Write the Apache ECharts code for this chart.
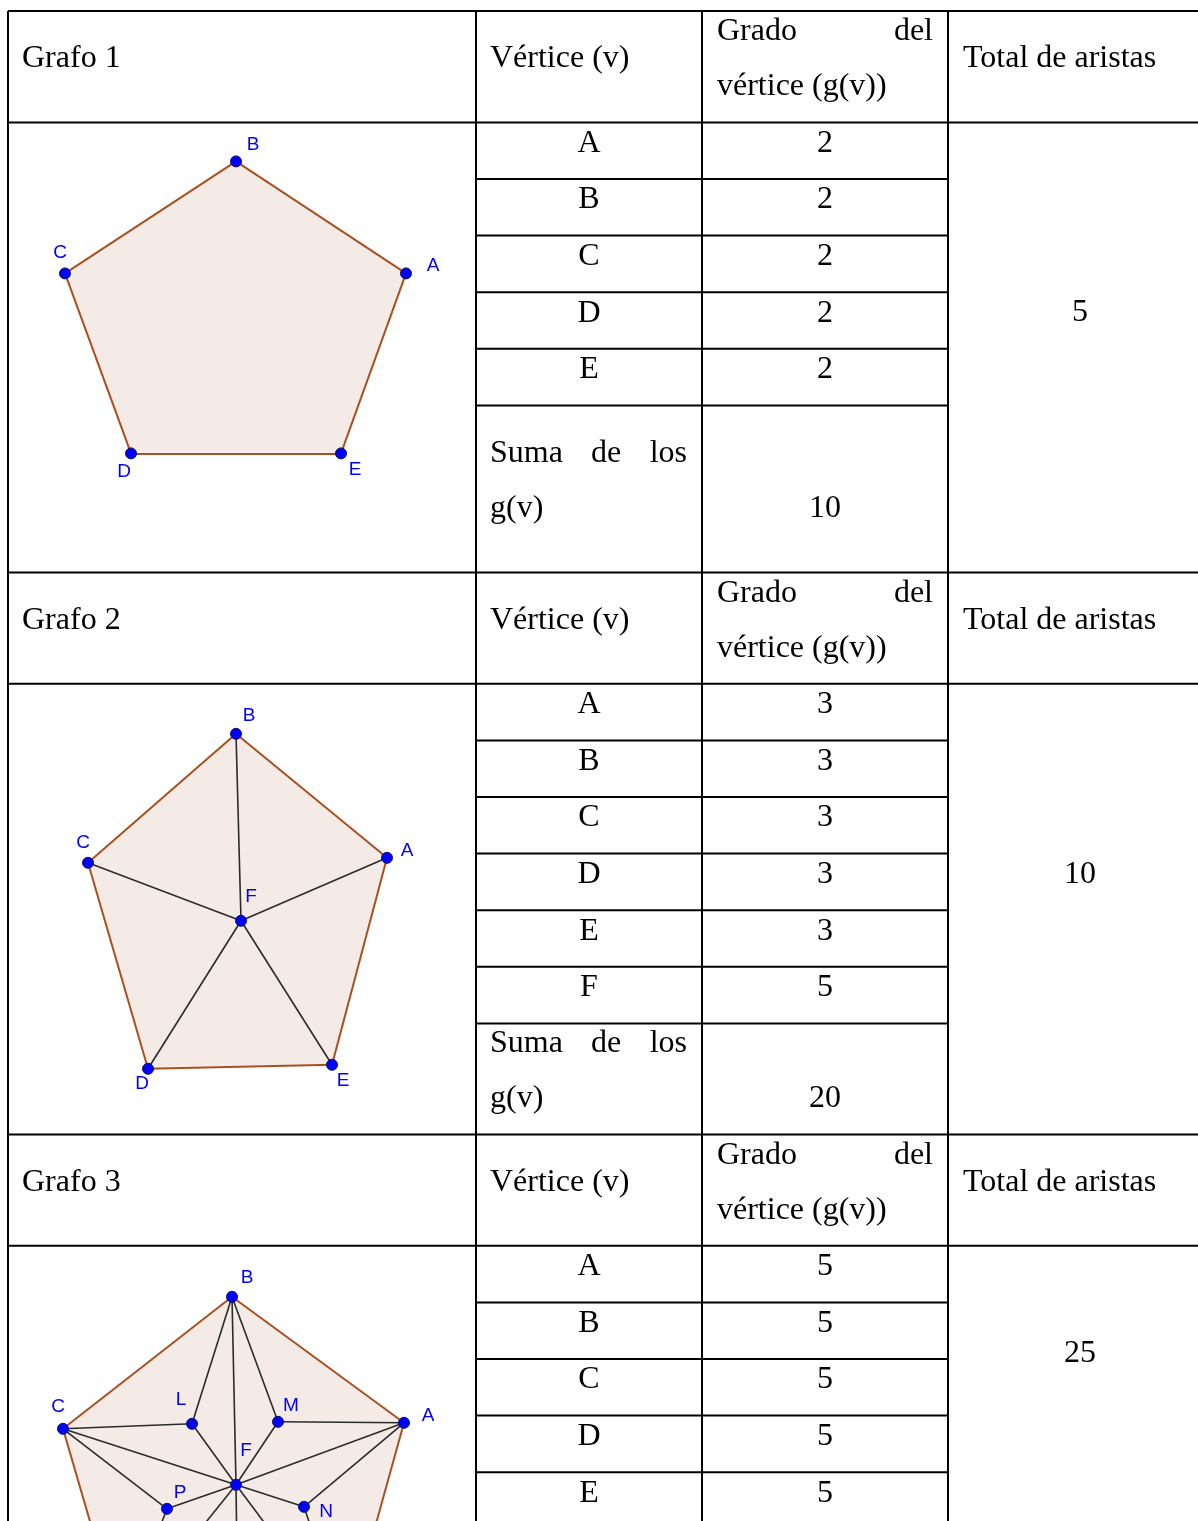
<!DOCTYPE html>
<html>
<head>
<meta charset="utf-8">
<script src="https://cdn.jsdelivr.net/npm/echarts@6/dist/echarts.min.js"></script>
<style>
  html, body { margin: 0; padding: 0; background: #fff; }
  #graph { width: 1198px; height: 1521px; }
</style>
</head>
<body>
<div id="graph"></div>
<script>
// tabla: grado de cada vertice
let GRAFO_TITULOS = ["Grafo 1", "Grafo 2", "Grafo 3"];
let VERTICES_1 = ["A", "B", "C", "D", "E"];
let GRADOS_1 = [2, 2, 2, 2, 2];
let VERTICES_2 = ["A", "B", "C", "D", "E", "F"];
let GRADOS_2 = [3, 3, 3, 3, 3, 5];
let VERTICES_3 = ["A", "B", "C", "D", "E"];
let GRADOS_3 = [5, 5, 5, 5, 5];
let SUMAS = [10, 20, null];
let TOTAL_ARISTAS = [5, 10, 25];

// dibujos de los grafos (coordenadas dentro de la celda)
let NODOS_1 = ["A", "B", "C", "D", "E"];
let POS_1 = [[398, 151], [228, 39], [57, 151], [123, 331], [333, 331]];
let ARISTAS_1 = [["A", "B"], ["B", "C"], ["C", "D"], ["D", "E"], ["E", "A"]];

let NODOS_2 = ["A", "B", "C", "D", "E", "F"];
let POS_2 = [[379, 174], [228, 50], [80, 179], [140, 385], [324, 381], [233, 237]];
let ARISTAS_2 = [["A", "B"], ["B", "C"], ["C", "D"], ["D", "E"], ["E", "A"],
    ["F", "A"], ["F", "B"], ["F", "C"], ["F", "D"], ["F", "E"]];

let NODOS_3 = ["A", "B", "C", "D", "E", "F", "L", "M", "N", "O", "P"];
let POS_3 = [[396, 177], [224, 51], [55, 183], [113, 382], [338, 386], [228, 239],
    [184, 178], [270, 176], [296, 261], [229, 312], [159, 263]];
let ARISTAS_3 = [["A", "B"], ["B", "C"], ["C", "D"], ["D", "E"], ["E", "A"],
    ["F", "A"], ["F", "B"], ["F", "C"], ["F", "D"], ["F", "E"],
    ["F", "L"], ["F", "M"], ["F", "N"], ["F", "O"], ["F", "P"],
    ["L", "B"], ["L", "C"], ["M", "B"], ["M", "A"], ["N", "A"], ["N", "E"],
    ["O", "D"], ["O", "E"], ["P", "C"], ["P", "D"]];
let CONTORNO = ["A", "B", "C", "D", "E"];

// desplazamiento de las etiquetas (solo estilo)
let ETIQ_1 = {A: [27, -8], B: [17, -17], C: [-5, -21], D: [-7, 18], E: [14, 16]};
let ETIQ_2 = {A: [20, -7], B: [13, -18], C: [-5, -20], D: [-6, 15], E: [11, 16], F: [10, -24]};
let ETIQ_3 = {A: [24, -7], B: [15, -19], C: [-5, -22], D: [-6, 16], E: [11, 16], F: [10, -34],
    L: [-11, -24], M: [13, -16], N: [22, 5], O: [12, 16], P: [13, -16]};

let SERIF = "'Liberation Serif', 'Times New Roman', serif";
let FS = 32;
let PAGE_H = 1521;
let COLS = [8, 476, 702, 948, 1198];
let ROW_H = 56.6;
let HEAD_H = 111.4;
let SUM_H = [167, 111, 0];
let TOTAL_DY = [189, 189, 106];

let tablas = [
    {vert: VERTICES_1, grad: GRADOS_1},
    {vert: VERTICES_2, grad: GRADOS_2},
    {vert: VERTICES_3, grad: GRADOS_3}
];
let grafos = [
    {nodos: NODOS_1, pos: POS_1, aristas: ARISTAS_1, etiq: ETIQ_1},
    {nodos: NODOS_2, pos: POS_2, aristas: ARISTAS_2, etiq: ETIQ_2},
    {nodos: NODOS_3, pos: POS_3, aristas: ARISTAS_3, etiq: ETIQ_3}
];

let elementos = [];
function linea(x1, y1, x2, y2) {
    elementos.push({type: 'line', z: 10, silent: true,
        shape: {x1: x1, y1: y1, x2: x2, y2: y2},
        style: {stroke: '#000', lineWidth: 2}});
}
function texto(t, x, y, align) {
    elementos.push({type: 'text', z: 10, silent: true, x: x, y: y + 1.5,
        style: {text: String(t), fill: '#000', fontSize: FS, fontFamily: SERIF,
            align: align, verticalAlign: 'middle', textAlign: align, textVerticalAlign: 'middle'}});
}

let y = 11;
let celdas = [];
for (let i = 0; i < tablas.length; i++) {
    let head = y;
    linea(COLS[0], head, COLS[4], head);
    texto(GRAFO_TITULOS[i], 22, head + 46.5, 'left');
    texto("Vértice (v)", 490, head + 46.5, 'left');
    texto("Grado", 717, head + 19.5, 'left');
    texto("del", 933, head + 19.5, 'right');
    texto("vértice (g(v))", 717, head + 74.5, 'left');
    texto("Total de aristas", 963, head + 46.5, 'left');
    y += HEAD_H;
    let dataTop = y;
    linea(COLS[0], dataTop, COLS[4], dataTop);
    celdas.push(dataTop);
    let t = tablas[i];
    for (let j = 0; j < t.vert.length; j++) {
        texto(t.vert[j], 589, y + 19.5, 'center');
        texto(t.grad[j], 825, y + 19.5, 'center');
        y += ROW_H;
        linea(COLS[1], y, COLS[3], y);
    }
    if (SUMAS[i] !== null) {
        let c = y + SUM_H[i] / 2 - 9.5;
        texto("Suma", 490, c - 27.5, 'left');
        texto("de", 606, c - 27.5, 'center');
        texto("los", 687, c - 27.5, 'right');
        texto("g(v)", 490, c + 27.5, 'left');
        texto(SUMAS[i], 825, c + 27.5, 'center');
        y += SUM_H[i];
    }
    texto(TOTAL_ARISTAS[i], 1080, dataTop + TOTAL_DY[i], 'center');
}
[0, 1, 2, 3].forEach(function (k) { linea(COLS[k], 11, COLS[k], PAGE_H + 10); });

let CELL_W = COLS[1] - COLS[0];
let grids = [], xAxes = [], yAxes = [], series = [];
for (let i = 0; i < grafos.length; i++) {
    let g = grafos[i];
    let p = {};
    g.nodos.forEach(function (n, k) { p[n] = g.pos[k]; });
    // la ultima celda queda cortada por el borde de la pagina: misma escala, menos alto
    let cellH = Math.min(450, PAGE_H - celdas[i]);
    grids.push({left: COLS[0], top: celdas[i], width: CELL_W, height: cellH});
    xAxes.push({gridIndex: i, type: 'value', min: 0, max: CELL_W, show: false});
    yAxes.push({gridIndex: i, type: 'value', min: 0, max: cellH, inverse: true, show: false});
    let contorno = CONTORNO.map(function (n) { return p[n]; });
    series.push({
        type: 'custom', xAxisIndex: i, yAxisIndex: i, clip: false, silent: true, z: 1,
        data: contorno,
        renderItem: function (params, api) {
            if (params.dataIndex !== 0) return null;
            return {type: 'polygon',
                shape: {points: contorno.map(function (q) { return api.coord(q); })},
                style: {fill: '#f5ebe6', stroke: null}};
        }
    });
    series.push({
        type: 'lines', coordinateSystem: 'cartesian2d', xAxisIndex: i, yAxisIndex: i,
        polyline: false, silent: true, z: 2, clip: false,
        data: g.aristas.map(function (a) {
            let exterior = CONTORNO.indexOf(a[0]) >= 0 && CONTORNO.indexOf(a[1]) >= 0;
            return {coords: [p[a[0]], p[a[1]]],
                lineStyle: exterior ? {color: '#a8501f', width: 2, opacity: 1}
                                    : {color: '#2b2b2b', width: 1.6, opacity: 1}};
        })
    });
    series.push({
        type: 'scatter', xAxisIndex: i, yAxisIndex: i, silent: true, z: 3, clip: false,
        symbolSize: 11,
        itemStyle: {color: '#0000ff', borderColor: '#10105a', borderWidth: 1, opacity: 1},
        label: {show: true, position: 'inside', formatter: '{b}', color: '#0000ff',
            fontFamily: "'Liberation Sans', Arial, sans-serif", fontSize: 19},
        data: g.nodos.map(function (n) {
            return {name: n, value: p[n], label: {offset: g.etiq[n]}};
        })
    });
}

let myChart = echarts.init(document.getElementById('graph'));
myChart.setOption({
    animation: false,
    backgroundColor: '#fff',
    grid: grids,
    xAxis: xAxes,
    yAxis: yAxes,
    series: series,
    graphic: {elements: elementos}
});
</script>
</body>
</html>
